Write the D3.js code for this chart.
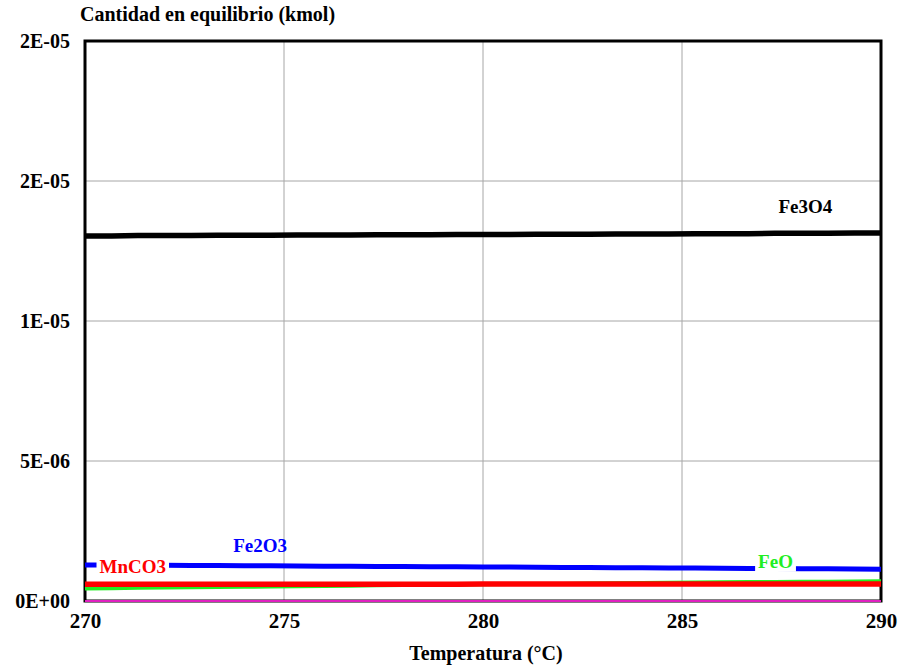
<!DOCTYPE html>
<html>
<head>
<meta charset="utf-8">
<script src="https://cdn.jsdelivr.net/npm/d3@7"></script>
<style>
  html, body { margin: 0; padding: 0; background: #fff; }
  svg { display: block; }
  svg text { font-family: "Times New Roman", Times, "Liberation Serif", "DejaVu Serif", serif; font-weight: bold; }
</style>
</head>
<body>
<svg id="chart" width="899" height="666"></svg>
<script>
// Temperature grid (°C), 31 points from 270 to 290
const temperature = [270, 270.67, 271.33, 272, 272.67, 273.33, 274, 274.67, 275.33, 276,
  276.67, 277.33, 278, 278.67, 279.33, 280, 280.67, 281.33, 282, 282.67,
  283.33, 284, 284.67, 285.33, 286, 286.67, 287.33, 288, 288.67, 289.33, 290];

// Equilibrium amounts (kmol)
const fe3o4 = [1.304e-5, 1.304e-5, 1.305e-5, 1.305e-5, 1.305e-5, 1.306e-5, 1.306e-5, 1.306e-5, 1.307e-5, 1.307e-5,
  1.307e-5, 1.308e-5, 1.308e-5, 1.308e-5, 1.309e-5, 1.309e-5, 1.309e-5, 1.310e-5, 1.310e-5, 1.310e-5,
  1.311e-5, 1.311e-5, 1.311e-5, 1.312e-5, 1.312e-5, 1.312e-5, 1.313e-5, 1.313e-5, 1.313e-5, 1.314e-5, 1.314e-5];
const fe2o3 = [1.29e-6, 1.285e-6, 1.28e-6, 1.275e-6, 1.27e-6, 1.265e-6, 1.26e-6, 1.255e-6, 1.25e-6, 1.245e-6,
  1.24e-6, 1.235e-6, 1.23e-6, 1.225e-6, 1.22e-6, 1.215e-6, 1.21e-6, 1.205e-6, 1.20e-6, 1.195e-6,
  1.19e-6, 1.185e-6, 1.18e-6, 1.175e-6, 1.17e-6, 1.165e-6, 1.16e-6, 1.155e-6, 1.15e-6, 1.14e-6, 1.13e-6];
const feo = [4.4e-7, 4.5e-7, 4.6e-7, 4.7e-7, 4.8e-7, 4.9e-7, 5.0e-7, 5.1e-7, 5.2e-7, 5.3e-7,
  5.4e-7, 5.5e-7, 5.6e-7, 5.7e-7, 5.8e-7, 5.9e-7, 6.0e-7, 6.1e-7, 6.2e-7, 6.3e-7,
  6.4e-7, 6.5e-7, 6.6e-7, 6.7e-7, 6.8e-7, 6.85e-7, 6.9e-7, 6.95e-7, 7.0e-7, 7.05e-7, 7.1e-7];
const mnco3 = [6.0e-7, 6.0e-7, 6.0e-7, 6.0e-7, 6.0e-7, 6.0e-7, 6.0e-7, 6.0e-7, 6.0e-7, 6.0e-7,
  6.0e-7, 6.0e-7, 6.0e-7, 6.0e-7, 6.0e-7, 6.05e-7, 6.05e-7, 6.05e-7, 6.05e-7, 6.05e-7,
  6.05e-7, 6.05e-7, 6.05e-7, 6.05e-7, 6.05e-7, 6.05e-7, 6.05e-7, 6.05e-7, 6.05e-7, 6.05e-7, 6.05e-7];
const zeroSpecies = [0, 0, 0, 0, 0, 0, 0, 0, 0, 0, 0, 0, 0, 0, 0, 0, 0, 0, 0, 0,
  0, 0, 0, 0, 0, 0, 0, 0, 0, 0, 0];

// Axis ticks
const xTicks = [270, 275, 280, 285, 290];
const yTicks = [0, 5e-6, 1e-5, 1.5e-5, 2e-5];
const yTickLabels = ["0E+00", "5E-06", "1E-05", "2E-05", "2E-05"];

const margin = { top: 41, right: 18, bottom: 65, left: 85 };
const W = 899, H = 666;
const iw = W - margin.left - margin.right;
const ih = H - margin.top - margin.bottom;

const svg = d3.select("#chart");
const g = svg.append("g").attr("transform", `translate(${margin.left},${margin.top})`);

const x = d3.scaleLinear().domain([270, 290]).range([0, iw]);
const y = d3.scaleLinear().domain([0, 2e-5]).range([ih, 0]);

// Grid
g.append("g").selectAll("line").data(xTicks.slice(1, -1)).join("line")
  .attr("x1", d => x(d)).attr("x2", d => x(d)).attr("y1", 0).attr("y2", ih)
  .attr("stroke", "#a6a6a6").attr("stroke-width", 1);
g.append("g").selectAll("line").data(yTicks.slice(1, -1)).join("line")
  .attr("y1", d => y(d)).attr("y2", d => y(d)).attr("x1", 0).attr("x2", iw)
  .attr("stroke", "#a6a6a6").attr("stroke-width", 1);

// Axes (labels only)
const xAxis = d3.axisBottom(x).tickValues(xTicks).tickSize(0).tickPadding(12).tickFormat(d3.format("d"));
const yAxis = d3.axisLeft(y).tickValues(yTicks).tickSize(0).tickPadding(15)
  .tickFormat((d, i) => yTickLabels[i]);

const gx = g.append("g").attr("transform", `translate(0,${ih})`).call(xAxis);
gx.attr("font-family", null).attr("font-size", null);
gx.select(".domain").remove();
gx.selectAll("text").style("font-size", "21px").attr("fill", "#000");

const gy = g.append("g").call(yAxis);
gy.attr("font-family", null).attr("font-size", null);
gy.select(".domain").remove();
gy.selectAll("text").style("font-size", "20px").attr("fill", "#000");

// Series
const line = d3.line().x((d, i) => x(temperature[i])).y(d => y(d));
const series = [
  { values: zeroSpecies, color: "#e020c0", width: 2 },
  { values: feo, color: "#22ee22", width: 3.5 },
  { values: mnco3, color: "#ff0000", width: 5.5 },
  { values: fe2o3, color: "#0000ff", width: 5 },
  { values: fe3o4, color: "#000000", width: 5.5 }
];

// Plot frame
g.append("rect").attr("x", 0).attr("y", 0).attr("width", iw).attr("height", ih)
  .attr("fill", "none").attr("stroke", "#000").attr("stroke-width", 3);

g.append("g").selectAll("path").data(series).join("path")
  .attr("d", d => line(d.values))
  .attr("fill", "none")
  .attr("stroke", d => d.color)
  .attr("stroke-width", d => d.width);

// Series labels
const labels = [
  { text: "Fe3O4", t: 288.1, v: fe3o4[28], dy: -20, color: "#000", box: false },
  { text: "Fe2O3", t: 274.4, v: fe2o3[6], dy: -14, color: "#0000ff", box: false },
  { text: "MnCO3", t: 271.2, v: fe2o3[2], dy: 8, color: "#ff0000", box: true },
  { text: "FeO", t: 287.35, v: fe2o3[27], dy: -1, color: "#22ee22", box: true }
];
const lg = g.append("g");
labels.forEach(l => {
  const t = lg.append("text")
    .attr("x", x(l.t)).attr("y", y(l.v) + l.dy)
    .attr("text-anchor", "middle")
    .style("font-size", "19px")
    .attr("fill", l.color)
    .text(l.text);
  if (l.box) {
    const b = t.node().getBBox();
    lg.insert("rect", () => t.node())
      .attr("x", b.x - 3).attr("y", b.y + 2).attr("width", b.width + 6).attr("height", b.height - 2)
      .attr("fill", "#fff");
  }
});

// Axis titles
svg.append("text").attr("x", 80).attr("y", 21).style("font-size", "20px").attr("fill", "#000")
  .text("Cantidad en equilibrio (kmol)");
svg.append("text").attr("x", margin.left + iw / 2 + 3).attr("y", 660).attr("text-anchor", "middle")
  .style("font-size", "20px").attr("fill", "#000")
  .text("Temperatura (°C)");
</script>
</body>
</html>
